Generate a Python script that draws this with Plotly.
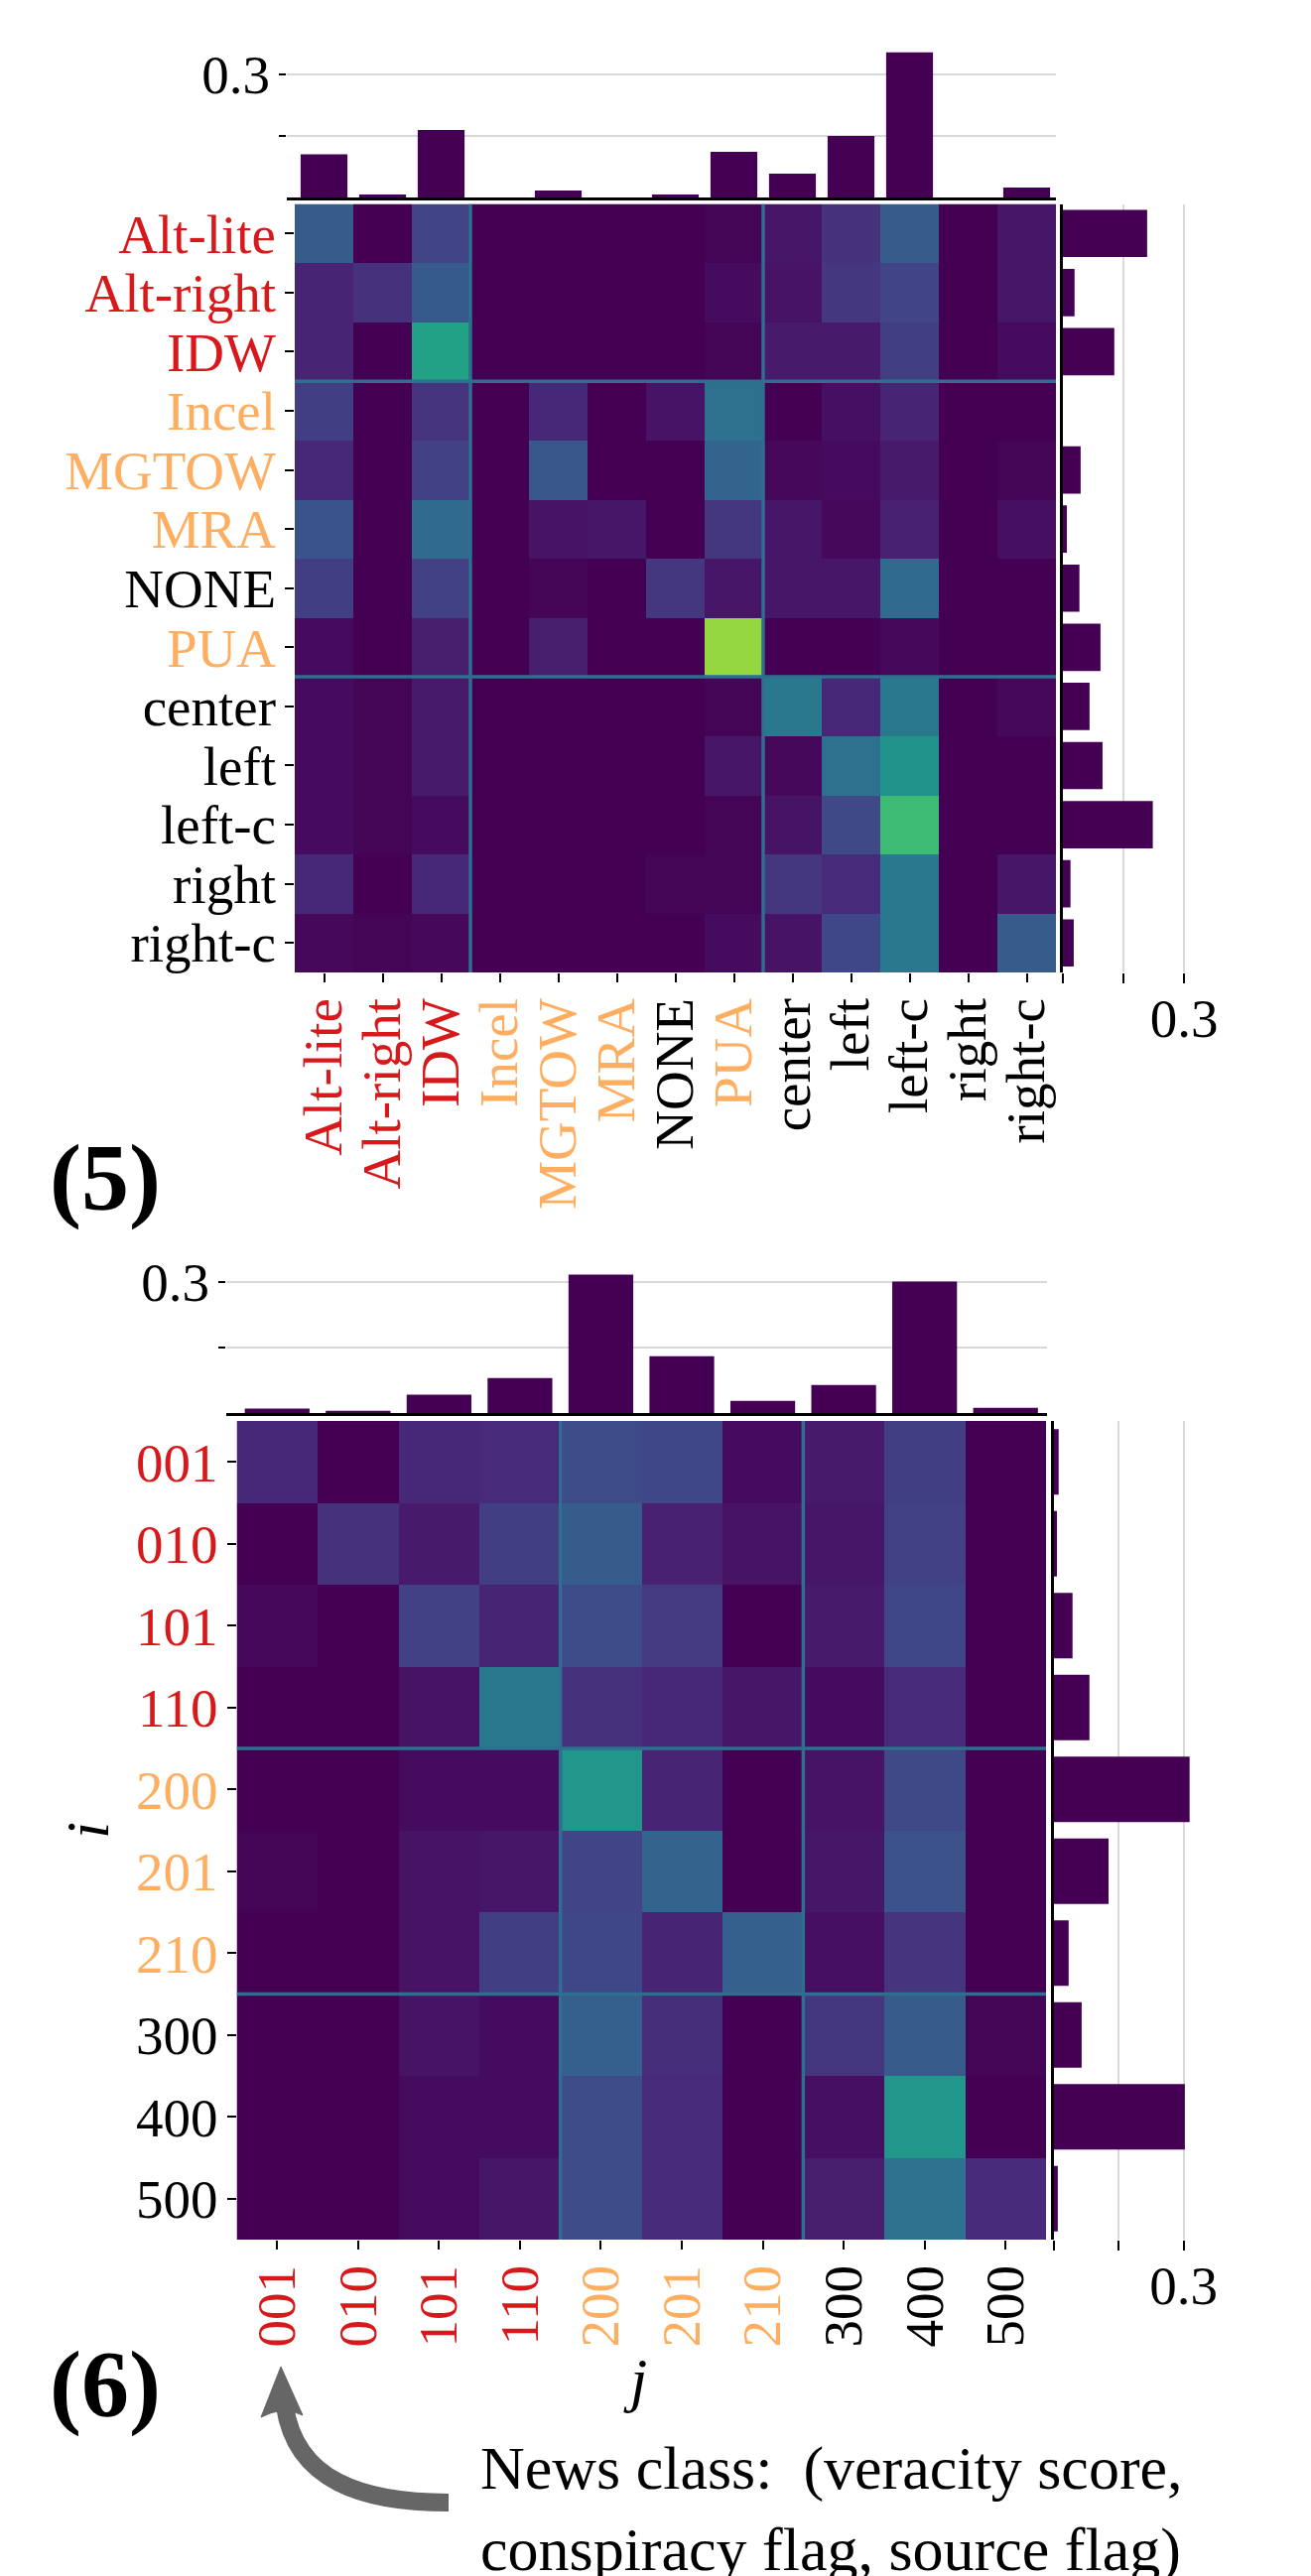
import plotly.graph_objects as go

W, H = 1321, 2596

# ---------------- data: panel (5) ----------------
cats5 = ["Alt-lite", "Alt-right", "IDW", "Incel", "MGTOW", "MRA", "NONE", "PUA",
         "center", "left", "left-c", "right", "right-c"]
groups5 = ["red", "red", "red", "orange", "orange", "orange", "black", "orange",
           "black", "black", "black", "black", "black"]
# column marginal (top bars)
col5 = [0.105, 0.007, 0.164, 0.0, 0.017, 0.0, 0.007, 0.111, 0.058, 0.150, 0.353, 0.0, 0.024]
# row marginal (right bars)
row5 = [0.209, 0.030, 0.128, 0.0, 0.045, 0.011, 0.042, 0.094, 0.067, 0.099, 0.223, 0.020, 0.028]
# transition matrix (rows i, columns j)
z5 = [
    [0.29, 0.00, 0.20, 0, 0, 0, 0, 0.01, 0.06, 0.14, 0.29, 0, 0.06],
    [0.10, 0.14, 0.28, 0, 0, 0, 0, 0.03, 0.05, 0.16, 0.20, 0, 0.06],
    [0.10, 0.00, 0.57, 0, 0, 0, 0, 0.01, 0.07, 0.07, 0.18, 0, 0.03],
    [0.18, 0.00, 0.15, 0, 0.11, 0, 0.05, 0.37, 0.00, 0.04, 0.10, 0, 0.00],
    [0.11, 0.00, 0.19, 0, 0.27, 0, 0.00, 0.32, 0.02, 0.03, 0.07, 0, 0.01],
    [0.26, 0.00, 0.35, 0, 0.05, 0.06, 0.00, 0.16, 0.06, 0.02, 0.09, 0, 0.04],
    [0.18, 0.00, 0.19, 0, 0.01, 0.00, 0.16, 0.06, 0.06, 0.06, 0.35, 0, 0.00],
    [0.03, 0.00, 0.08, 0, 0.08, 0.00, 0.00, 0.84, 0.00, 0.00, 0.02, 0, 0.00],
    [0.03, 0.01, 0.07, 0, 0, 0, 0, 0.01, 0.40, 0.11, 0.40, 0, 0.02],
    [0.03, 0.01, 0.07, 0, 0, 0, 0, 0.06, 0.02, 0.37, 0.51, 0, 0.00],
    [0.03, 0.01, 0.03, 0, 0, 0, 0, 0.01, 0.05, 0.22, 0.68, 0, 0.00],
    [0.11, 0.00, 0.11, 0, 0, 0, 0.01, 0.01, 0.16, 0.12, 0.40, 0, 0.06],
    [0.02, 0.01, 0.02, 0, 0, 0, 0, 0.03, 0.05, 0.21, 0.40, 0, 0.29],
]

# ---------------- data: panel (6) ----------------
cats6 = ["001", "010", "101", "110", "200", "201", "210", "300", "400", "500"]
groups6 = ["red", "red", "red", "red", "orange", "orange", "orange", "black", "black", "black"]
col6 = [0.010, 0.005, 0.042, 0.080, 0.317, 0.130, 0.028, 0.064, 0.301, 0.012]
row6 = [0.012, 0.008, 0.044, 0.083, 0.314, 0.127, 0.035, 0.065, 0.303, 0.010]
z6 = [
    [0.11, 0.00, 0.11, 0.12, 0.23, 0.21, 0.03, 0.07, 0.18, 0.00],
    [0.00, 0.14, 0.07, 0.18, 0.29, 0.09, 0.05, 0.06, 0.19, 0.00],
    [0.02, 0.00, 0.19, 0.10, 0.23, 0.17, 0.00, 0.07, 0.21, 0.00],
    [0.00, 0.00, 0.05, 0.40, 0.14, 0.11, 0.06, 0.03, 0.12, 0.00],
    [0.00, 0.00, 0.03, 0.03, 0.52, 0.10, 0.00, 0.05, 0.22, 0.00],
    [0.01, 0.00, 0.05, 0.06, 0.20, 0.32, 0.00, 0.06, 0.25, 0.00],
    [0.00, 0.00, 0.05, 0.18, 0.21, 0.10, 0.30, 0.04, 0.15, 0.00],
    [0.00, 0.00, 0.05, 0.03, 0.30, 0.13, 0.00, 0.16, 0.29, 0.01],
    [0.00, 0.00, 0.03, 0.03, 0.23, 0.12, 0.00, 0.04, 0.52, 0.00],
    [0.00, 0.00, 0.03, 0.06, 0.23, 0.12, 0.00, 0.08, 0.37, 0.12],
]

bar_ticks = [0, 0.15, 0.3]
bar_ticktext = ["", "", "0.3"]

# ---------------- styling ----------------
FONT = "Liberation Serif"
BAR = "#440154"
SEP = "#2e6e8e"
GRID = "#d9d9d9"
COL = {"red": "#d7191c", "orange": "#fdae61", "black": "#000000"}
VIR = ["#440154", "#482475", "#414487", "#355f8d", "#2a788e", "#21918c",
       "#22a884", "#44bf70", "#7ad151", "#bddf26", "#fde725"]
colorscale = [[i / 10, c] for i, c in enumerate(VIR)]


def X(px):
    return px / W


def Y(py):
    return 1 - py / H


def xd(a, b):
    return [X(a), X(b)]


def yd(top, bottom):
    return [Y(bottom), Y(top)]


def colored(cats, groups):
    return ["<span style='color:%s'>%s</span>" % (COL[g], c) for c, g in zip(cats, groups)]


fig = go.Figure()

panels = [
    dict(cats=cats5, groups=groups5, col=col5, row=row5, z=z5,
         hm=(297, 1064, 205.5, 980), top=(289, 1064, 45, 199), top_max=0.372,
         right=(1070.5, 1200, 0.317), seps=[2.5, 7.5], ax=1),
    dict(cats=cats6, groups=groups6, col=col6, row=row6, z=z6,
         hm=(238.5, 1054, 1432, 2257), top=(228, 1055, 1280, 1424), top_max=0.327,
         right=(1061.5, 1200, 0.317), seps=[3.5, 6.5], ax=4),
]

layout = dict(
    template="none",
    width=W, height=H, autosize=False, margin=dict(l=0, r=0, t=0, b=0, pad=0),
    paper_bgcolor="white", plot_bgcolor="white", showlegend=False,
    font=dict(family=FONT, size=55, color="black"),
)
shapes = []
annotations = []

for p in panels:
    a = p["ax"]
    n = len(p["cats"])
    hx0, hx1, hy0, hy1 = p["hm"]
    tx0, tx1, ty0, ty1 = p["top"]
    rx0, rx1, rmax = p["right"]
    cw = (hx1 - hx0) / n

    sa, sb, sc = str(a), str(a + 1), str(a + 2)
    nm = lambda k: "" if k == "1" else k

    # top marginal bars
    fig.add_trace(go.Bar(x=p["cats"], y=p["col"], width=0.8, marker=dict(color=BAR, line=dict(width=0)),
                         xaxis="x" + nm(sa), yaxis="y" + nm(sa), hoverinfo="x+y"))
    # heatmap
    fig.add_trace(go.Heatmap(z=p["z"], x=p["cats"], y=p["cats"], colorscale=colorscale,
                             zmin=0, zmax=1, showscale=False,
                             xaxis="x" + sb, yaxis="y" + sb))
    # right marginal bars
    fig.add_trace(go.Bar(y=p["cats"], x=p["row"], orientation="h", width=0.8,
                         marker=dict(color=BAR, line=dict(width=0)),
                         xaxis="x" + sc, yaxis="y" + sc, hoverinfo="x+y"))

    layout["xaxis" + nm(sa)] = dict(
        domain=xd(tx0, tx1), type="category", categoryorder="array", categoryarray=p["cats"],
        range=[-0.5 - (hx0 - tx0) / cw, n - 0.5 + (tx1 - hx1) / cw],
        showticklabels=False, ticks="", showgrid=False, zeroline=False, automargin=False,
        showline=True, linecolor="black", linewidth=2.5, anchor="y" + nm(sa), fixedrange=True)
    layout["yaxis" + nm(sa)] = dict(
        domain=yd(ty0, ty1), range=[0, p["top_max"]], tickvals=[0.15, 0.3], ticktext=["", "0.3"],
        ticks="outside", ticklen=7, tickwidth=2, tickcolor="black", automargin=False,
        showgrid=True, gridcolor=GRID, gridwidth=2, zeroline=False, showline=False,
        tickfont=dict(size=55), ticklabelstandoff=-2, anchor="x" + nm(sa))

    layout["xaxis" + sb] = dict(
        domain=xd(hx0, hx1), type="category", categoryorder="array", categoryarray=p["cats"],
        range=[-0.5, n - 0.5], tickvals=p["cats"], ticktext=colored(p["cats"], p["groups"]),
        tickangle=-90, ticks="outside", ticklen=9, tickwidth=2, tickcolor="black",
        showgrid=False, zeroline=False, showline=False, tickfont=dict(size=55), automargin=False,
        ticklabelstandoff=-6, anchor="y" + sb)
    layout["yaxis" + sb] = dict(
        domain=yd(hy0, hy1), type="category", categoryorder="array", categoryarray=p["cats"],
        range=[n - 0.5, -0.5], tickvals=p["cats"], ticktext=colored(p["cats"], p["groups"]),
        ticks="outside", ticklen=9, tickwidth=2, tickcolor="black", automargin=False,
        showgrid=False, zeroline=False, showline=False, tickfont=dict(size=55),
        ticklabelstandoff=-2, anchor="x" + sb)

    layout["xaxis" + sc] = dict(
        domain=xd(rx0, rx1), range=[0, rmax], tickvals=bar_ticks, ticktext=bar_ticktext,
        ticks="outside", ticklen=10, tickwidth=2, tickcolor="black", automargin=False,
        showgrid=True, gridcolor=GRID, gridwidth=2, zeroline=False, showline=False,
        tickfont=dict(size=55), ticklabelstandoff=-12, anchor="y" + sc)
    layout["yaxis" + sc] = dict(
        domain=yd(hy0, hy1), type="category", categoryorder="array", categoryarray=p["cats"],
        range=[n - 0.5, -0.5], showticklabels=False, ticks="", showgrid=False, zeroline=False,
        automargin=False, showline=True, linecolor="black", linewidth=2.5, anchor="x" + sc)

    # block separators on the heatmap
    for s in p["seps"]:
        shapes.append(dict(type="line", xref="x" + sb, yref="y" + sb, x0=s, x1=s, y0=-0.5, y1=n - 0.5,
                           line=dict(color=SEP, width=3.5)))
        shapes.append(dict(type="line", xref="x" + sb, yref="y" + sb, y0=s, y1=s, x0=-0.5, x1=n - 0.5,
                           line=dict(color=SEP, width=3.5)))


def note(text, px, py, size, xanchor="center", yanchor="middle", angle=0):
    annotations.append(dict(text=text, x=X(px), y=Y(py), xref="paper", yref="paper",
                            xanchor=xanchor, yanchor=yanchor, textangle=angle, showarrow=False,
                            font=dict(size=size, family=FONT, color="black")))


# panel labels
note("<b>(5)</b>", 106, 1186, 96)
note("<b>(6)</b>", 106, 2402, 96)
# axis labels of panel 6
note("<i>j</i>", 640, 2398, 62)
note("<i>i</i>", 88, 1845, 62, angle=-90)
# explanatory note
note("News class:  (veracity score,", 482, 2487, 62, xanchor="left")
note("conspiracy flag, source flag)", 482, 2569, 62, xanchor="left")
# glyph of the text above, cut by the top edge
note("g", 1062, 2, 62, yanchor="bottom")

# curved arrow
arrow_path = "M %f,%f C %f,%f %f,%f %f,%f" % (X(452), Y(2522), X(365), Y(2522),
                                              X(298), Y(2500), X(287), Y(2425))
shapes.append(dict(type="path", xref="paper", yref="paper", path=arrow_path,
                   line=dict(color="#666666", width=18), fillcolor="rgba(0,0,0,0)"))
head = "M %f,%f L %f,%f Q %f,%f %f,%f Z" % (X(283), Y(2385), X(305), Y(2434),
                                            X(285), Y(2424), X(263), Y(2436))
shapes.append(dict(type="path", xref="paper", yref="paper", path=head,
                   line=dict(color="#666666", width=1), fillcolor="#666666"))

layout["shapes"] = shapes
layout["annotations"] = annotations
fig.update_layout(**layout)

fig.write_html("out.html", config={"displayModeBar": False},
               post_script="document.body.style.margin='0';")
